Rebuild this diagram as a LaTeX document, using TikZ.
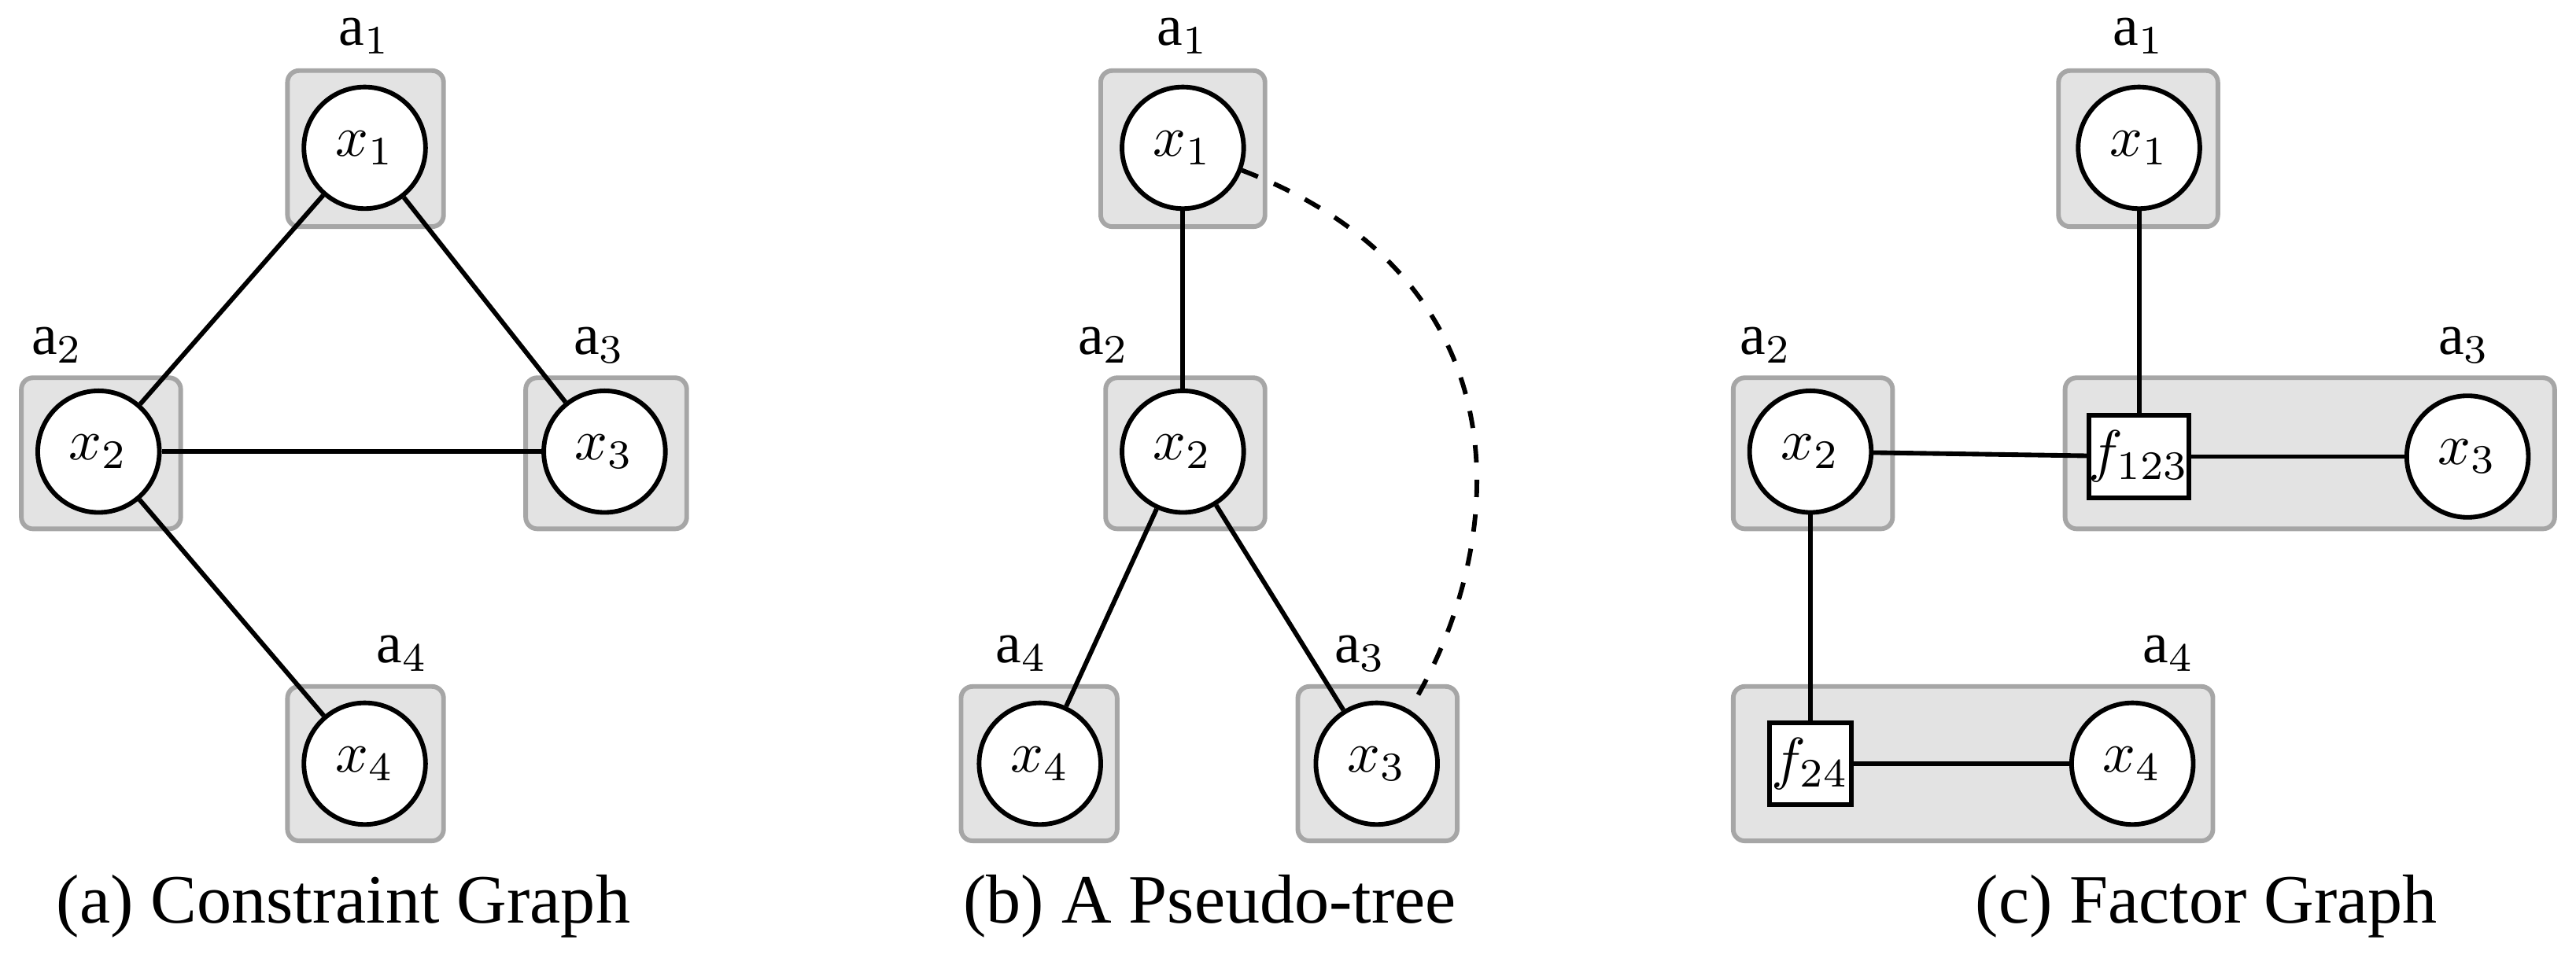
\documentclass[tikz,border=0pt]{standalone}
\usepackage{fontspec}
\setmainfont{Liberation Serif}
\usepackage{amsmath}
\tikzset{
  agent/.style={draw=gray!70, fill=gray!22, rounded corners=2pt, line width=0.8pt},
  var/.style={circle, draw, thick, fill=white, minimum size=0.74cm, inner sep=0pt, font=\itshape},
  fac/.style={rectangle, draw, thick, fill=white, minimum size=0.5cm, inner sep=0pt},
  lbl/.style={font=\normalsize}
}
\begin{document}
\begin{tikzpicture}[x=0.01cm, y=-0.01cm]
        \useasboundingbox (0,0) rectangle (1568,590);
        % (a)
        \draw[agent] (175,43) rectangle (270,138);
        \draw[agent] (13,230) rectangle (110,322);
        \draw[agent] (320,230) rectangle (418,322);
        \draw[agent] (175,418) rectangle (270,512);
        \node[lbl] (la1) at (222,22) {a$_1$};
        \node[lbl] (la2) at (35,210) {a$_2$};
        \node[lbl] (la3) at (365,210) {a$_3$};
        \node[lbl] (la4) at (245,398) {a$_4$};
        \node[var] (ax1) at (222,90) {$x_1$};
        \node[var] (ax2) at (60,275) {$x_2$};
        \node[var] (ax3) at (368,275) {$x_3$};
        \node[var] (ax4) at (222,465) {$x_4$};
        \draw[thick] (ax1) -- (ax2);
        \draw[thick] (ax1) -- (ax3);
        \draw[thick] (ax2) -- (ax3);
        \draw[thick] (ax2) -- (ax4);
        \node[right, font=\large] (capa) at (22,552) {(a) Constraint Graph};
        % (b)
        \draw[agent] (670,43) rectangle (770,138);
        \draw[agent] (673,230) rectangle (770,322);
        \draw[agent] (585,418) rectangle (680,512);
        \draw[agent] (790,418) rectangle (887,512);
        \node[lbl] (lb1) at (720,22) {a$_1$};
        \node[lbl] (lb2) at (672,210) {a$_2$};
        \node[lbl] (lb4) at (622,398) {a$_4$};
        \node[lbl] (lb3) at (828,398) {a$_3$};
        \node[var] (bx1) at (720,90) {$x_1$};
        \node[var] (bx2) at (720,275) {$x_2$};
        \node[var] (bx4) at (633,465) {$x_4$};
        \node[var] (bx3) at (838,465) {$x_3$};
        \draw[thick] (bx1) -- (bx2);
        \draw[thick] (bx2) -- (bx4);
        \draw[thick] (bx2) -- (bx3);
        \draw[thick, dashed] (bx1) .. controls (930,170) and (920,330) .. (bx3);
        \node[right, font=\large] (capb) at (574,552) {(b) A Pseudo-tree};
        % (c)
        \draw[agent] (1253,43) rectangle (1350,138);
        \draw[agent] (1055,230) rectangle (1152,322);
        \draw[agent] (1257,230) rectangle (1555,322);
        \draw[agent] (1055,418) rectangle (1347,512);
        \node[lbl] (lc1) at (1302,22) {a$_1$};
        \node[lbl] (lc2) at (1075,210) {a$_2$};
        \node[lbl] (lc3) at (1500,210) {a$_3$};
        \node[lbl] (lc4) at (1320,398) {a$_4$};
        \node[var] (cx1) at (1302,90) {$x_1$};
        \node[var] (cx2) at (1102,275) {$x_2$};
        \node[fac] (f123) at (1302,278) {$f_{123}$};
        \node[var] (cx3) at (1502,278) {$x_3$};
        \node[fac] (f24) at (1102,465) {$f_{24}$};
        \node[var] (cx4) at (1298,465) {$x_4$};
        \draw[thick] (cx1) -- (f123);
        \draw[thick] (cx2) -- (f123);
        \draw[thick] (f123) -- (cx3);
        \draw[thick] (cx2) -- (f24);
        \draw[thick] (f24) -- (cx4);
        \node[right, font=\large] (capc) at (1190,552) {(c) Factor Graph};
    \end{tikzpicture}
\end{document}
